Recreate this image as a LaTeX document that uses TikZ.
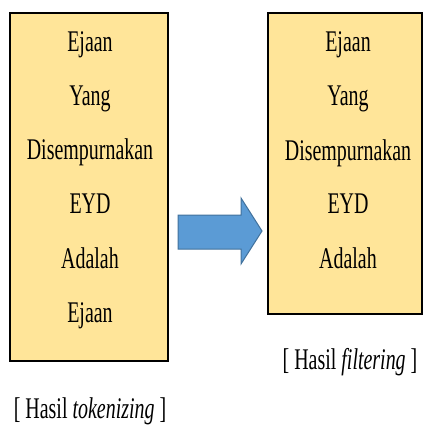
\documentclass[tikz,border=0pt]{standalone}
\usepackage{fontspec}
\setmainfont{Liberation Serif}
\newfontfamily\narrowserif[FakeStretch=0.665]{Liberation Serif}
\definecolor{boxfill}{HTML}{FFE599}
\definecolor{arrowfill}{HTML}{5B9BD5}
\definecolor{arrowline}{HTML}{41719C}
\tikzset{
  tokbox/.style={draw=black, line width=2.2pt, fill=boxfill},
  word/.style={font=\narrowserif\fontsize{30}{34}\selectfont, inner sep=0pt, anchor=base},
  caption/.style={font=\narrowserif\fontsize{30}{34}\selectfont, inner sep=0pt, anchor=base},
  bigarrow/.style={draw=arrowline, line width=1pt, fill=arrowfill}
}
\begin{document}
\begin{tikzpicture}[x=1pt,y=-1pt]
\useasboundingbox (0,0) rectangle (425,430);
\draw[tokbox] (10,13) rectangle (168,361);
\draw[tokbox] (268,13) rectangle (422,314);
\node[word] (l1) at (90,52) {Ejaan};
\node[word] (l2) at (90,106) {Yang};
\node[word] (l3) at (90,160) {Disempurnakan};
\node[word] (l4) at (90,213) {EYD};
\node[word] (l5) at (90,268) {Adalah};
\node[word] (l6) at (90,322) {Ejaan};
\node[word] (r1) at (348,52) {Ejaan};
\node[word] (r2) at (348,106) {Yang};
\node[word] (r3) at (348,161) {Disempurnakan};
\node[word] (r4) at (348,213) {EYD};
\node[word] (r5) at (348,268) {Adalah};
\node[caption] (cl) at (90,418) {[\,Hasil \textit{tokenizing}\,]};
\node[caption] (cr) at (350,369) {[\,Hasil\,\textit{filtering}\,]};
\draw[bigarrow] (178,215) -- (241,215) -- (241,198) -- (262,231) -- (241,264) -- (241,249) -- (178,249) -- cycle;
\end{tikzpicture}
\end{document}
